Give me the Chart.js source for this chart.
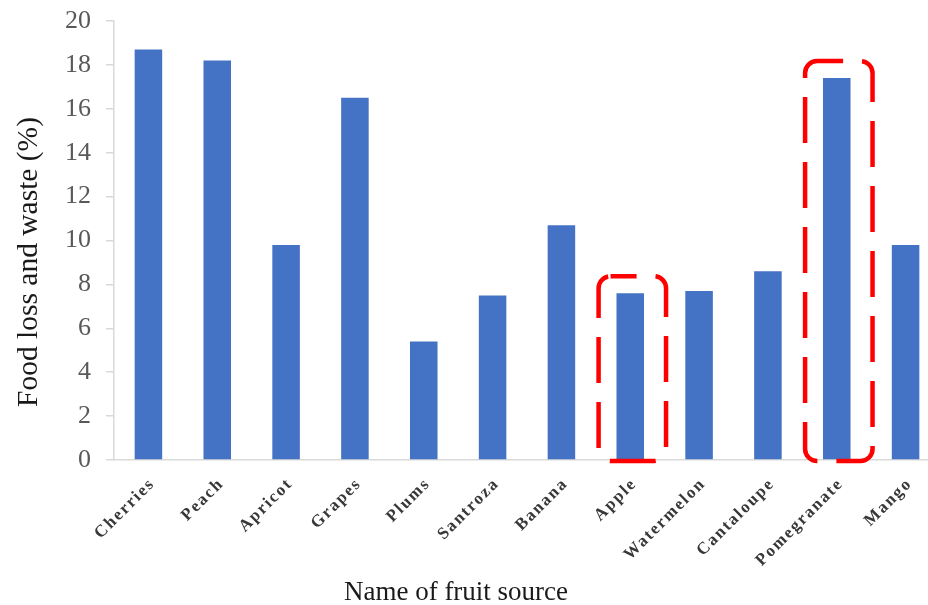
<!DOCTYPE html>
<html>
<head>
<meta charset="utf-8">
<script src="https://cdn.jsdelivr.net/npm/chart.js@4.4.1/dist/chart.umd.min.js"></script>
<style>
  html, body { margin: 0; padding: 0; background: #ffffff; overflow: hidden; }
  #wrap { width: 940px; height: 605px; position: relative; }
</style>
</head>
<body>
<div id="wrap"><canvas id="chart"></canvas></div>
<script>
// Fruit categories and their food loss and waste share (%)
const fruits = ['Cherries', 'Peach', 'Apricot', 'Grapes', 'Plums', 'Santroza',
                'Banana', 'Apple', 'Watermelon', 'Cantaloupe', 'Pomegranate', 'Mango'];
const lossPercent = [18.7, 18.2, 9.8, 16.5, 5.4, 7.5, 10.7, 7.6, 7.7, 8.6, 17.4, 9.8];

// Value axis range and step
const yMin = 0;
const yMax = 20;
const yStep = 2;

// Categories outlined with a red dashed frame
const highlighted = ['Apple', 'Pomegranate'];

const axisTitleX = 'Name of fruit source';
const axisTitleY = 'Food loss and waste (%)';

const SERIF = '"Liberation Serif", "Times New Roman", serif';
const LABEL_SPACING = '1.8px';

// Red dashed rounded frames around the highlighted bars
const highlightFrames = {
  id: 'highlightFrames',
  afterDatasetsDraw(chart) {
    const ctx = chart.ctx;
    const xs = chart.scales.x;
    const ys = chart.scales.y;
    const meta = chart.getDatasetMeta(0);
    const step = xs.width / fruits.length;
    ctx.save();
    ctx.strokeStyle = '#ff0000';
    ctx.lineWidth = 4.5;
    ctx.setLineDash([46, 19]);
    ctx.lineDashOffset = 20;
    highlighted.forEach(name => {
      const i = fruits.indexOf(name);
      const bar = meta.data[i];
      const left = bar.x - step * 0.46;
      const right = bar.x + step * 0.52;
      const top = bar.y - 17;
      const bottom = ys.getPixelForValue(yMin) + 1;
      ctx.beginPath();
      ctx.roundRect(left, top, right - left, bottom - top, 12);
      ctx.stroke();
    });
    ctx.restore();
  }
};

// Axis titles
const axisTitles = {
  id: 'axisTitles',
  afterDraw(chart) {
    const ctx = chart.ctx;
    ctx.save();
    ctx.fillStyle = '#1a1a1a';
    ctx.textAlign = 'center';
    ctx.textBaseline = 'alphabetic';
    ctx.font = '27px ' + SERIF;
    ctx.fillText(axisTitleX, 456, 600);
    ctx.translate(37, 262);
    ctx.rotate(-Math.PI / 2);
    ctx.font = '29.5px ' + SERIF;
    ctx.fillText(axisTitleY, 0, 0);
    ctx.restore();
  }
};

// Spaced lettering for the category labels
const spacedCategoryLabels = {
  id: 'spacedCategoryLabels',
  afterUpdate(chart) {
    const sx = chart.scales.x;
    if (!sx._spacedPatch) {
      const orig = sx.drawLabels.bind(sx);
      sx.drawLabels = function (area) {
        const c = this.ctx;
        const prev = c.letterSpacing;
        c.letterSpacing = LABEL_SPACING;
        orig(area);
        c.letterSpacing = prev || '0px';
      };
      sx._spacedPatch = true;
    }
  }
};

new Chart(document.getElementById('chart'), {
  type: 'bar',
  data: {
    labels: fruits,
    datasets: [{
      data: lossPercent,
      backgroundColor: '#4472c4',
      borderWidth: 0,
      barPercentage: 0.4,
      categoryPercentage: 1.0
    }]
  },
  options: {
    responsive: true,
    maintainAspectRatio: false,
    animation: false,
    layout: { padding: { top: 21, right: 0, bottom: 0, left: 0 } },
    plugins: {
      legend: { display: false },
      tooltip: { enabled: false }
    },
    scales: {
      x: {
        grid: { display: false },
        border: { display: true, color: '#d9d9d9', width: 1.5 },
        ticks: {
          minRotation: 45,
          maxRotation: 45,
          autoSkip: false,
          padding: 6,
          labelOffset: 4,
          color: '#383838',
          font: { family: SERIF, size: 17, weight: 'bold' }
        },
        beforeUpdate(axis) { axis.ctx.letterSpacing = LABEL_SPACING; },
        afterUpdate(axis) { axis.ctx.letterSpacing = '0px'; },
        afterFit(axis) { axis.height = 145; }
      },
      y: {
        min: yMin,
        max: yMax,
        grid: {
          drawOnChartArea: false,
          drawTicks: true,
          tickLength: 8,
          color: '#d9d9d9',
          lineWidth: 1.5
        },
        border: { display: true, color: '#d9d9d9', width: 1.5 },
        ticks: {
          stepSize: yStep,
          padding: 15,
          color: '#595959',
          font: { family: SERIF, size: 26 }
        },
        afterFit(axis) {
          axis.width = 114;
          axis.paddingTop = 0;
          axis.paddingBottom = 0;
        }
      }
    }
  },
  plugins: [spacedCategoryLabels, highlightFrames, axisTitles]
});
</script>
</body>
</html>
